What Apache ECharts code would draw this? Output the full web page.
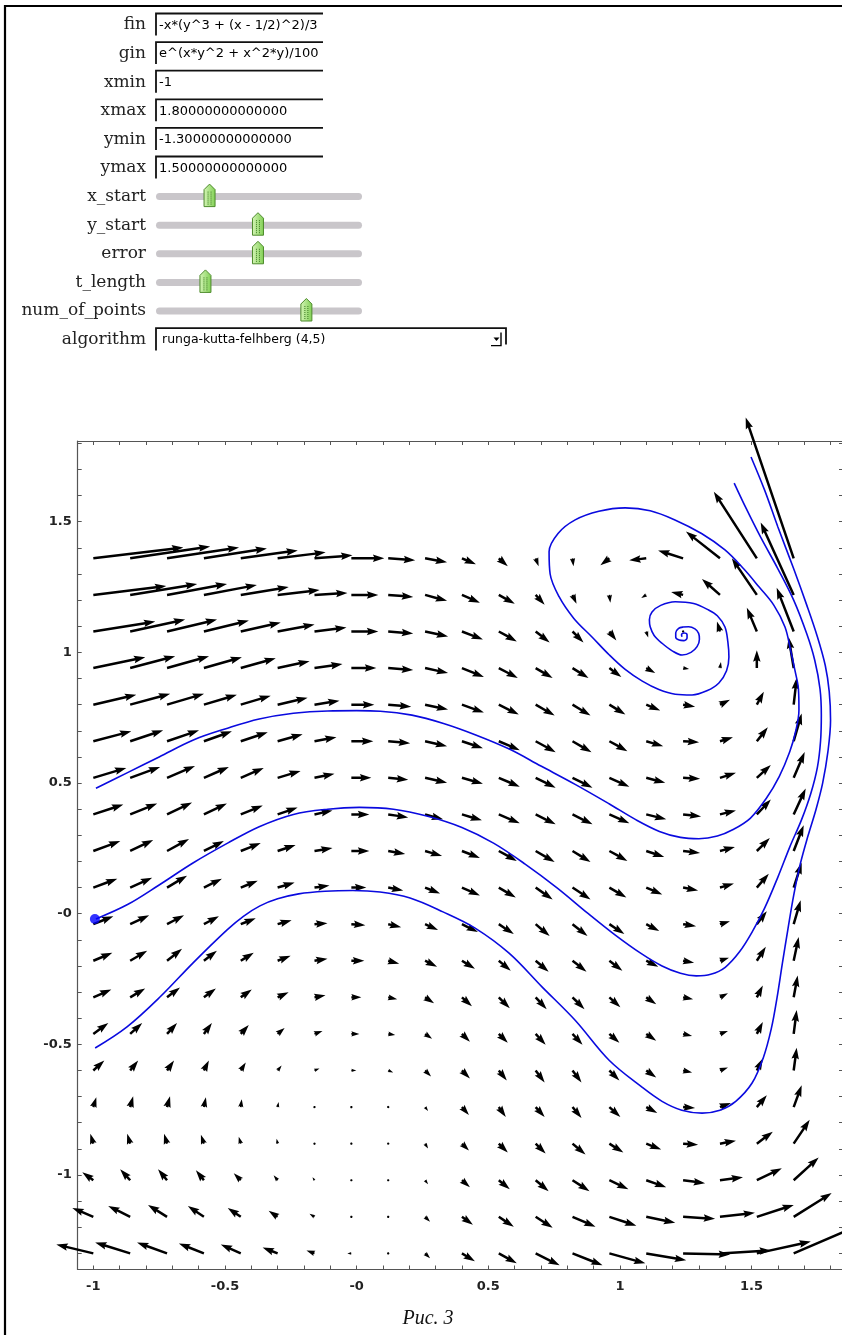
<!DOCTYPE html>
<html>
<head>
<meta charset="utf-8">
<script src="https://cdn.jsdelivr.net/npm/echarts@6/dist/echarts.min.js"></script>
<style>
html,body{margin:0;padding:0;background:#fff;}
#chart{width:842px;height:1335px;}
</style>
</head>
<body>
<div id="chart"></div>
<script>
// ---------- interact form ----------
const formLabels = ['fin','gin','xmin','xmax','ymin','ymax','x_start','y_start','error','t_length','num_of_points','algorithm'];
const inputValues = ['-x*(y^3 + (x - 1/2)^2)/3','e^(x*y^2 + x^2*y)/100','-1','1.80000000000000','-1.30000000000000','1.50000000000000'];
const sliderPositions = [0.26, 0.495, 0.495, 0.24, 0.73];
const algorithmChoice = 'runga-kutta-felhberg (4,5)';
const captionText = 'Рис. 3';

// ---------- axes ----------
const xTickLabelValues = [-1, -0.5, 0, 0.5, 1, 1.5];
const xTickLabels = ['-1', '-0.5', '-0', '0.5', '1', '1.5'];
const yTickLabelValues = [-1, -0.5, 0, 0.5, 1, 1.5];
const yTickLabels = ['-1', '-0.5', '-0', '0.5', '1', '1.5'];
const xMinorTicks = [-1.0,-0.9,-0.8,-0.7,-0.6,-0.5,-0.4,-0.3,-0.2,-0.1,0,0.1,0.2,0.3,0.4,0.5,0.6,0.7,0.8,0.9,1.0,1.1,1.2,1.3,1.4,1.5,1.6,1.7,1.8];
const yMinorTicks = [-1.3,-1.2,-1.1,-1.0,-0.9,-0.8,-0.7,-0.6,-0.5,-0.4,-0.3,-0.2,-0.1,0,0.1,0.2,0.3,0.4,0.5,0.6,0.7,0.8,0.9,1.0,1.1,1.2,1.3,1.4,1.5,1.6,1.7,1.8];

// ---------- vector field (sample points and read-off components) ----------
const gridX = [-1, -0.86, -0.72, -0.58, -0.44, -0.30, -0.16, -0.02, 0.12, 0.26, 0.40, 0.54, 0.68, 0.82, 0.96, 1.10, 1.24, 1.38, 1.52, 1.66];
const gridY = [1.36, 1.22, 1.08, 0.94, 0.80, 0.66, 0.52, 0.38, 0.24, 0.10, -0.04, -0.18, -0.32, -0.46, -0.60, -0.74, -0.88, -1.02, -1.16, -1.30];
const fieldU = [
  [90, 80, 72, 63, 57, 48, 38, 33, 27, 22, 14, 9, 3, 1, -9, -17, -25, -34, -43, -48],
  [73, 67, 60, 53, 48, 42, 33, 27, 25, 22, 18, 16, 9, 4, 1, -5, -12, -18, -25, -33],
  [62, 55, 50, 45, 40, 37, 32, 27, 25, 23, 21, 18, 14, 11, 7, 2, 0.5, -3, -10, -17],
  [52, 45, 42, 38, 35, 32, 28, 25, 25, 23, 22, 19, 17, 16, 12, 9, 6, 1, 0, -5],
  [43, 40, 37, 33, 30, 30, 25, 23, 23, 23, 22, 20, 19, 18, 16, 14, 12, 10, 7, 3],
  [38, 33, 32, 28, 27, 25, 22, 22, 22, 22, 21, 21, 20, 19, 18, 17, 16, 13, 11, 8],
  [33, 30, 28, 25, 23, 23, 20, 20, 20, 22, 21, 21, 20, 20, 20, 19, 17, 16, 14, 11],
  [30, 27, 25, 23, 22, 20, 18, 18, 20, 18, 20, 21, 20, 20, 20, 20, 18, 16, 14, 12],
  [27, 23, 22, 20, 20, 18, 18, 18, 17, 17, 18, 18, 19, 18, 18, 18, 17, 15, 13, 10],
  [24, 22, 20, 18, 17, 17, 15, 15, 15, 15, 18, 17, 17, 18, 17, 16, 15, 14, 12, 8],
  [20, 19, 17, 15, 15, 14, 13, 14, 13, 13, 16, 15, 14, 15, 15, 13, 13, 10, 10, 7],
  [19, 17, 15, 13, 13, 13, 13, 13, 11, 12, 13, 12, 13, 14, 13, 12, 11, 9, 9, 5],
  [18, 15, 13, 12, 11, 11, 11, 10, 9, 9, 10, 11, 11, 12, 11, 10, 10, 8, 6, 4],
  [15, 12, 10, 8, 8, 7, 8, 8, 7, 7, 8, 9, 10, 10, 10, 10, 9, 8, 6, 3],
  [11, 8, 7, 5, 5, 4, 5, 5, 5, 6, 8, 8, 9, 9, 10, 10, 9, 8, 6, 3],
  [3, 3, 3, 2, 1, 1, 1, 2, 2, 3, 7, 7, 9, 9, 11, 11, 12, 11, 10, 8],
  [-3, -3, -3, -3, -2, -1, 0, 0, 1, 3, 7, 9, 10, 13, 14, 15, 15, 16, 16, 16],
  [-11, -10, -9, -8, -7, -4, -2, 0, 0, 3, 8, 11, 13, 17, 19, 20, 22, 23, 25, 25],
  [-21, -22, -19, -16, -13, -9, -5, -2, 0, 5, 11, 15, 17, 23, 27, 29, 32, 35, 37, 38],
  [-37, -35, -30, -25, -20, -15, -8, -4, 0, 5, 13, 18, 24, 30, 36, 40, 47, 51, 54, 60]
];
const fieldV = [
  [11, 12, 11, 10, 8, 6, 3, 0, -2, -4, -6, -8, -8, -8, -7, -2, 8, 27, 67, 142],
  [9, 11, 11, 10, 8, 5, 2, 0, -2, -6, -8, -9, -10, -9, -8, -3, 3, 16, 37, 73],
  [10, 12, 12, 11, 9, 7, 4, 0, -2, -5, -8, -10, -11, -11, -9, -6, 0.5, 10, 24, 44],
  [11, 12, 12, 11, 10, 7, 4, 0, -2, -5, -9, -10, -10, -10, -9, -5, -1, 6, 18, 31],
  [10, 11, 11, 10, 9, 7, 4, 0, -2, -5, -8, -10, -11, -11, -10, -6, -2, 5, 13, 27],
  [10, 11, 11, 10, 9, 7, 4, 0, -2, -5, -7, -9, -11, -11, -10, -5, -1, 4, 14, 28],
  [10, 11, 12, 11, 10, 7, 4, 0, -2, -5, -6, -9, -10, -10, -9, -5, -1, 5, 13, 26],
  [10, 11, 12, 11, 9, 7, 4, 0, -3, -5, -6, -9, -10, -10, -9, -5, -2, 4, 15, 26],
  [10, 11, 12, 10, 8, 6, 3, 0, -3, -5, -7, -10, -11, -11, -10, -6, -2, 4, 13, 26],
  [9, 10, 12, 9, 7, 5, 2, 0, -3, -6, -8, -10, -12, -12, -10, -7, -3, 4, 14, 25],
  [8, 9, 9, 8, 6, 4, 1, -1, -3, -6, -8, -10, -12, -12, -10, -7, -2, 3, 13, 24],
  [8, 10, 12, 10, 8, 5, 2, 0, -3, -6, -8, -10, -11, -11, -10, -6, -2, 3, 14, 24],
  [8, 9, 10, 9, 8, 5, 2, 0, -2, -6, -9, -11, -12, -12, -10, -7, -2, 4, 12, 22],
  [11, 11, 11, 11, 9, 6, 3, 0, -1, -5, -8, -9, -11, -11, -9, -7, -2, 3, 12, 24],
  [10, 10, 10, 10, 8, 5, 2, 0, -2, -6, -8, -10, -12, -12, -10, -7, -2, 3, 12, 23],
  [10, 11, 11, 10, 8, 5, 2, 0, -1, -4, -8, -10, -10, -11, -10, -6, -1, 4, 12, 22],
  [10, 10, 10, 9, 7, 5, 2, 0, -1, -5, -7, -9, -10, -11, -9, -6, -1, 3, 12, 24],
  [8, 11, 11, 10, 7, 5, 3, 0, 0, -4, -7, -9, -11, -11, -9, -7, -3, 3, 12, 23],
  [9, 11, 12, 11, 9, 6, 3, 0, 0, -5, -8, -10, -11, -10, -9, -6, -2, 4, 12, 24],
  [9, 11, 11, 10, 9, 6, 3, 0, 0, -5, -8, -10, -12, -12, -10, -7, -1, 3, 12, 26]
];

// ---------- solution curves ----------
const trajectoryA = [[-0.99,0.48],[-0.87,0.54],[-0.75,0.60],[-0.62,0.665],[-0.49,0.71],[-0.37,0.745],[-0.24,0.767],[-0.11,0.776],[0.0,0.777],[0.09,0.775],[0.21,0.76],[0.33,0.728],[0.45,0.685],[0.58,0.63],[0.70,0.565],[0.83,0.495],[0.96,0.42],[1.06,0.36],[1.15,0.315],[1.23,0.292],[1.30,0.287],[1.37,0.297],[1.43,0.322],[1.495,0.365],[1.555,0.44],[1.605,0.525],[1.645,0.62],[1.668,0.70],[1.68,0.78],[1.678,0.86],[1.665,0.93],[1.648,1.01],[1.627,1.097],[1.585,1.18],[1.528,1.251],[1.47,1.32],[1.399,1.392],[1.31,1.455],[1.209,1.507],[1.115,1.542],[1.02,1.553],[0.92,1.54],[0.83,1.507],[0.765,1.455],[0.731,1.385],[0.735,1.30],[0.769,1.213],[0.825,1.13],[0.894,1.059],[0.96,0.99],[1.02,0.935],[1.085,0.89],[1.148,0.858],[1.21,0.84],[1.274,0.837],[1.33,0.853],[1.376,0.883],[1.405,0.93],[1.414,0.982],[1.41,1.04],[1.399,1.097],[1.37,1.14],[1.337,1.162],[1.28,1.187],[1.21,1.194],[1.155,1.18],[1.122,1.155],[1.112,1.125],[1.115,1.098],[1.13,1.065],[1.16,1.035],[1.20,1.005],[1.236,0.99],[1.27,1.0],[1.293,1.022],[1.302,1.05],[1.299,1.073],[1.285,1.09],[1.261,1.098],[1.24,1.097],[1.223,1.092],[1.212,1.075],[1.212,1.058],[1.225,1.047],[1.242,1.045],[1.255,1.055],[1.255,1.068],[1.245,1.074],[1.234,1.068],[1.236,1.06]];
const trajectoryB = [[-0.99,-0.02],[-0.87,0.035],[-0.75,0.11],[-0.62,0.195],[-0.49,0.27],[-0.37,0.333],[-0.24,0.38],[-0.11,0.40],[0.01,0.407],[0.14,0.40],[0.27,0.373],[0.40,0.33],[0.52,0.27],[0.64,0.19],[0.76,0.10],[0.88,0.0],[0.98,-0.08],[1.08,-0.152],[1.16,-0.2],[1.23,-0.228],[1.29,-0.238],[1.345,-0.232],[1.40,-0.205],[1.455,-0.145],[1.505,-0.065],[1.55,0.022],[1.60,0.14],[1.645,0.255],[1.69,0.36],[1.725,0.46],[1.75,0.56],[1.762,0.66],[1.765,0.76],[1.76,0.86],[1.74,0.97],[1.71,1.07],[1.66,1.2],[1.60,1.32],[1.535,1.44],[1.48,1.55],[1.434,1.648]];
const trajectoryC = [[-0.993,-0.514],[-0.872,-0.433],[-0.746,-0.318],[-0.621,-0.188],[-0.492,-0.062],[-0.43,-0.01],[-0.367,0.03],[-0.30,0.057],[-0.22,0.076],[-0.12,0.086],[-0.014,0.089],[0.089,0.083],[0.203,0.06],[0.328,0.007],[0.45,-0.055],[0.579,-0.151],[0.705,-0.281],[0.83,-0.408],[0.959,-0.561],[1.084,-0.664],[1.16,-0.718],[1.235,-0.752],[1.312,-0.763],[1.38,-0.752],[1.44,-0.718],[1.502,-0.648],[1.545,-0.55],[1.575,-0.44],[1.597,-0.32],[1.617,-0.19],[1.638,-0.06],[1.66,0.07],[1.685,0.19],[1.715,0.30],[1.745,0.40],[1.77,0.5],[1.79,0.62],[1.80,0.74],[1.795,0.85],[1.78,0.95],[1.75,1.06],[1.71,1.18],[1.66,1.32],[1.60,1.48],[1.55,1.62],[1.498,1.748]];
const startPoint = [-0.994, -0.02];

// ---------- build ----------
const QUIVER_SCALE = 1 / 263.3;   // data units per field unit
const SHAFT = 2.5;                 // shaft width (px), matplotlib-like arrow
const HEAD_LEN = 4.6, HEAD_AXIS = 4.1, HEAD_W = 3;

const arrowData = [];
for (let r = 0; r < gridY.length; r++) {
  for (let c = 0; c < gridX.length; c++) {
    arrowData.push([gridX[c], gridY[r], fieldU[r][c], fieldV[r][c]]);
  }
}

function renderArrow(params, api) {
  const x = api.value(0), y = api.value(1), u = api.value(2), v = api.value(3);
  const p0 = api.coord([x, y]);
  const p1 = api.coord([x + u * QUIVER_SCALE, y + v * QUIVER_SCALE]);
  const dx = p1[0] - p0[0], dy = p1[1] - p0[1];
  const L = Math.hypot(dx, dy) / SHAFT;
  const ang = Math.atan2(dy, dx);
  let local;
  if (L < 1) {
    local = [];
    for (let k = 0; k < 6; k++) local.push([0.5 * Math.cos(k * Math.PI / 3), 0.5 * Math.sin(k * Math.PI / 3)]);
  } else if (L < HEAD_LEN) {
    const s = L / HEAD_LEN;
    local = [[0,0.5],[HEAD_LEN-HEAD_AXIS,0.5],[0,HEAD_W/2],[HEAD_LEN,0],[0,-HEAD_W/2],[HEAD_LEN-HEAD_AXIS,-0.5],[0,-0.5]]
      .map(p => [p[0] * s, p[1] * s]);
  } else {
    local = [[0,0.5],[L-HEAD_AXIS,0.5],[L-HEAD_LEN,HEAD_W/2],[L,0],[L-HEAD_LEN,-HEAD_W/2],[L-HEAD_AXIS,-0.5],[0,-0.5]];
  }
  const ca = Math.cos(ang), sa = Math.sin(ang);
  const pts = local.map(p => [p0[0] + SHAFT * (p[0] * ca - p[1] * sa), p0[1] + SHAFT * (p[0] * sa + p[1] * ca)]);
  return { type: 'polygon', shape: { points: pts }, style: { fill: '#000' } };
}

function labelFor(values, labels) {
  return function (v) {
    for (let i = 0; i < values.length; i++) if (Math.abs(values[i] - v) < 1e-9) return labels[i];
    return '';
  };
}

const frameColor = '#555';
const xMin = -1.0593, xMax = 1.8473, yMin = -1.3616, yMax = 1.8090;
const tickFont = { fontFamily: 'DejaVu Sans', fontSize: 13, fontWeight: 'bold', color: '#222' };

// form graphics
const graphic = [];
const labelRight = 146, rowY0 = 25, rowStep = 28.6, boxLeft = 156, boxRight = 323;
graphic.push({ type: 'polyline', shape: { points: [[5, 1335], [5, 6], [842, 6]] }, style: { stroke: '#000', lineWidth: 2.2, fill: null } });
formLabels.forEach((t, i) => {
  graphic.push({ type: 'text', x: labelRight, y: rowY0 + i * rowStep,
    style: { text: t, align: 'right', verticalAlign: 'middle', fontFamily: 'DejaVu Serif', fontSize: 17, fill: '#222' } });
});
inputValues.forEach((t, i) => {
  const cy = rowY0 + i * rowStep, top = cy - 11.5, bottom = cy + 10.5;
  graphic.push({ type: 'polyline', shape: { points: [[boxLeft, bottom], [boxLeft, top], [boxRight, top]] },
    style: { stroke: '#111', lineWidth: 1.8, fill: null } });
  graphic.push({ type: 'text', x: boxLeft + 3, y: cy + 0.5,
    style: { text: t, verticalAlign: 'middle', fontFamily: 'DejaVu Sans', fontSize: 13, fill: '#000' } });
});
const trackLeft = 156, trackWidth = 206;
sliderPositions.forEach((p, k) => {
  const cy = rowY0 + (6 + k) * rowStep;
  graphic.push({ type: 'rect', shape: { x: trackLeft, y: cy - 3.5, width: trackWidth, height: 7, r: 3.5 }, style: { fill: '#c9c6ca' } });
  const cx = trackLeft + p * trackWidth;
  graphic.push({ type: 'polygon', shape: { points: [[cx - 5.5, cy + 10], [cx - 5.5, cy - 7], [cx, cy - 12.5], [cx + 5.5, cy - 7], [cx + 5.5, cy + 10]] },
    style: { fill: new echarts.graphic.LinearGradient(0, 0, 1, 0, [{ offset: 0, color: '#d6f5b8' }, { offset: 1, color: '#7fcf52' }]), stroke: '#4d8a2c', lineWidth: 1 } });
  graphic.push({ type: 'line', shape: { x1: cx - 1.5, y1: cy - 5, x2: cx - 1.5, y2: cy + 8 }, style: { stroke: '#3d7a22', lineWidth: 1, lineDash: [1, 1] } });
  graphic.push({ type: 'line', shape: { x1: cx + 1.5, y1: cy - 5, x2: cx + 1.5, y2: cy + 8 }, style: { stroke: '#3d7a22', lineWidth: 1, lineDash: [1, 1] } });
});
(function () {
  const cy = rowY0 + 11 * rowStep, top = cy - 11.5, bottom = cy + 11, right = 506;
  graphic.push({ type: 'polyline', shape: { points: [[boxLeft, bottom], [boxLeft, top], [right, top], [right, bottom - 6]] },
    style: { stroke: '#111', lineWidth: 1.8, fill: null } });
  graphic.push({ type: 'text', x: boxLeft + 6, y: cy,
    style: { text: algorithmChoice, verticalAlign: 'middle', fontFamily: 'DejaVu Sans', fontSize: 12.5, fill: '#000' } });
  graphic.push({ type: 'polygon', shape: { points: [[493.5, cy - 2], [499.5, cy - 2], [496.5, cy + 1.5]] }, style: { fill: '#000' } });
  graphic.push({ type: 'polyline', shape: { points: [[491, cy + 6], [501, cy + 6], [501, cy - 7]] }, style: { stroke: '#000', lineWidth: 1.4, fill: null } });
})();
graphic.push({ type: 'text', x: 428, y: 1319,
  style: { text: captionText, align: 'center', verticalAlign: 'middle', fontFamily: 'Liberation Serif', fontStyle: 'italic', fontSize: 20, fill: '#111' } });

const baseX = {
  type: 'value', min: xMin, max: xMax, splitLine: { show: false },
  axisLine: { show: true, onZero: false, lineStyle: { color: frameColor, width: 1.2 } },
  axisTick: { show: true, inside: true, length: 4, customValues: xMinorTicks, lineStyle: { color: frameColor, width: 1 } }
};
const baseY = {
  type: 'value', min: yMin, max: yMax, splitLine: { show: false },
  axisLine: { show: true, onZero: false, lineStyle: { color: frameColor, width: 1.2 } },
  axisTick: { show: true, inside: true, length: 4, customValues: yMinorTicks, lineStyle: { color: frameColor, width: 1 } }
};

const option = {
  animation: false,
  backgroundColor: '#fff',
  grid: { left: 77.7, top: 441, width: 765.3, height: 828.5, containLabel: false, outerBoundsMode: 'none' },
  xAxis: [
    Object.assign({}, baseX, { position: 'bottom',
      axisLabel: Object.assign({ customValues: xTickLabelValues, formatter: labelFor(xTickLabelValues, xTickLabels), margin: 11 }, tickFont) }),
    Object.assign({}, baseX, { position: 'top', axisLabel: { show: false } })
  ],
  yAxis: [
    Object.assign({}, baseY, { position: 'left',
      axisLabel: Object.assign({ customValues: yTickLabelValues, formatter: labelFor(yTickLabelValues, yTickLabels), margin: 6 }, tickFont) }),
    Object.assign({}, baseY, { position: 'right', axisLabel: { show: false } })
  ],
  graphic: graphic,
  series: [
    { type: 'custom', name: 'field', coordinateSystem: 'cartesian2d', xAxisIndex: 0, yAxisIndex: 0,
      data: arrowData, encode: { x: 0, y: 1 }, renderItem: renderArrow, clip: false, silent: true, z: 2 },
    { type: 'line', name: 'A', data: trajectoryA, smooth: 0.35, showSymbol: false, clip: false, silent: true,
      lineStyle: { color: '#0a0adf', width: 1.6 }, z: 3 },
    { type: 'line', name: 'B', data: trajectoryB, smooth: 0.35, showSymbol: false, clip: false, silent: true,
      lineStyle: { color: '#0a0adf', width: 1.6 }, z: 3 },
    { type: 'line', name: 'C', data: trajectoryC, smooth: 0.35, showSymbol: false, clip: false, silent: true,
      lineStyle: { color: '#0a0adf', width: 1.6 }, z: 3 },
    { type: 'scatter', name: 'start', data: [startPoint], symbol: 'circle', symbolSize: 10, silent: true,
      itemStyle: { color: '#0000ff' }, z: 4 }
  ]
};

const chart = echarts.init(document.getElementById('chart'), null, { renderer: 'canvas', width: 842, height: 1335 });
chart.setOption(option);
</script>
</body>
</html>
